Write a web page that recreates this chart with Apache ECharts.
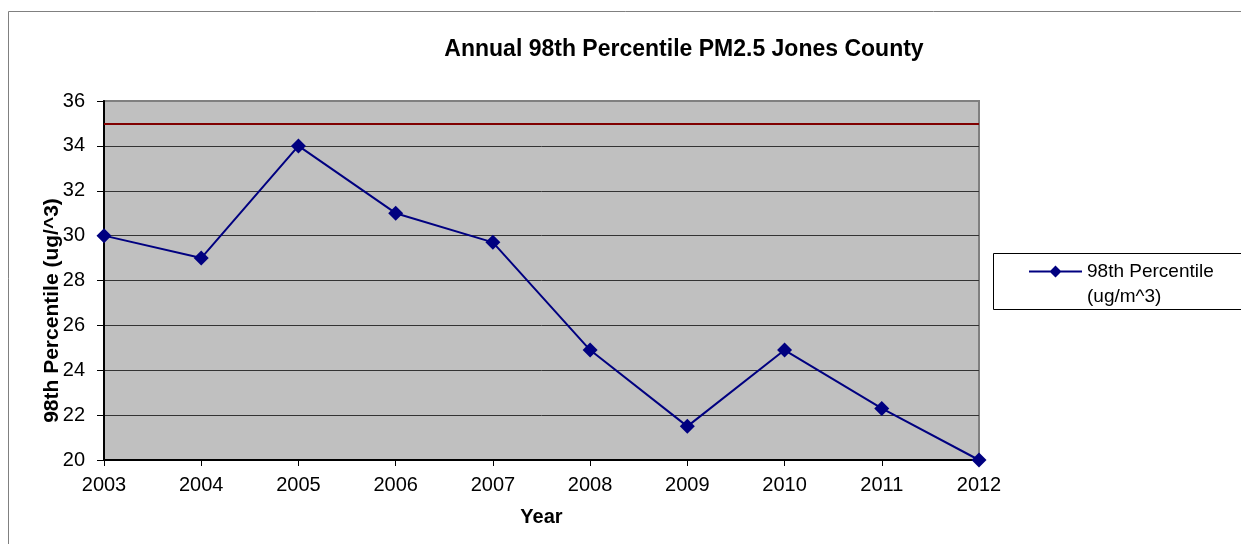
<!DOCTYPE html>
<html><head><meta charset="utf-8">
<script src="https://cdn.jsdelivr.net/npm/echarts@6/dist/echarts.min.js"></script>
<style>html,body{margin:0;padding:0;background:#fff}#c{width:1241px;height:544px}</style>
</head><body><div id="c"></div>
<script>
const years = ['2003','2004','2005','2006','2007','2008','2009','2010','2011','2012'];
const percentile98 = [30, 29, 34, 31, 29.7, 24.9, 21.5, 24.9, 22.3, 20];
const standardLevel = 35;
const yTicks = {min: 20, max: 36, interval: 2};

const chart = echarts.init(document.getElementById('c'), null, {renderer: 'canvas'});
const font = '"Liberation Sans", Arial, sans-serif';
const legendIcon = 'path://M0,0 M0,11.5 L21.5,11.5 L26.5,6.5 L31.5,11.5 L53,11.5 L53,13.5 L31.5,13.5 L26.5,18.5 L21.5,13.5 L0,13.5 Z M53,50';
chart.setOption({
  animation: false,
  backgroundColor: '#fff',
  textStyle: {fontFamily: font},
  title: {
    text: 'Annual 98th Percentile PM2.5 Jones County',
    left: 679, top: 33, textAlign: 'center',
    textStyle: {fontFamily: font, fontSize: 23, fontWeight: 'bold', color: '#000'}
  },
  graphic: [
    {type: 'rect', shape: {x: 8.5, y: 11.5, width: 1240, height: 540}, style: {fill: 'none', stroke: '#808080', lineWidth: 1}, z: -1},
    {type: 'rect', shape: {x: 993.5, y: 253.5, width: 260, height: 56}, style: {fill: '#fff', stroke: '#000', lineWidth: 1}, z: 1}
  ],
  legend: {
    left: 1029, top: 259,
    itemWidth: 53, itemHeight: 50, itemGap: 0,
    padding: 0,
    textStyle: {fontFamily: font, fontSize: 19, color: '#000', lineHeight: 25},
    z: 5,
    data: [{name: '98th Percentile\n(ug/m^3)', icon: legendIcon}]
  },
  grid: {
    left: 104, top: 101, right: 262, bottom: 84,
    show: true, backgroundColor: '#c0c0c0', borderColor: '#808080', borderWidth: 2
  },
  xAxis: {
    type: 'category', data: years, boundaryGap: false,
    name: 'Year', nameLocation: 'middle', nameGap: 47,
    nameTextStyle: {fontFamily: font, fontSize: 20, fontWeight: 'bold', color: '#000'},
    axisLine: {show: true, lineStyle: {color: '#000', width: 2}},
    axisTick: {show: true, length: 6, lineStyle: {color: '#000'}},
    axisLabel: {fontFamily: font, fontSize: 20, color: '#000', margin: 15},
    splitLine: {show: false}
  },
  yAxis: {
    type: 'value', min: yTicks.min, max: yTicks.max, interval: yTicks.interval,
    name: '98th Percentile (ug/^3)', nameLocation: 'middle', nameGap: 41, nameRotate: 90,
    nameMoveOverlap: false,
    nameTextStyle: {fontFamily: font, fontSize: 21, fontWeight: 'bold', color: '#000', padding: [0, 60, 0, 0]},
    axisLine: {show: true, lineStyle: {color: '#000', width: 2}},
    axisTick: {show: true, length: 7, lineStyle: {color: '#000'}},
    axisLabel: {fontFamily: font, fontSize: 20, color: '#000', margin: 19},
    splitLine: {show: true, lineStyle: {color: ['#000','#333','#333','#333','#333','#333','#333','#333','#808080'], width: 1}}
  },
  series: [{
    name: '98th Percentile\n(ug/m^3)',
    type: 'line', data: percentile98,
    symbol: 'diamond', symbolSize: 15,
    lineStyle: {color: '#000080', width: 2},
    itemStyle: {color: '#000080'},
    z: 3,
    markLine: {
      silent: true, symbol: 'none', label: {show: false},
      lineStyle: {color: '#800000', width: 2, type: 'solid'},
      data: [{yAxis: standardLevel}]
    }
  }]
});
</script></body></html>
